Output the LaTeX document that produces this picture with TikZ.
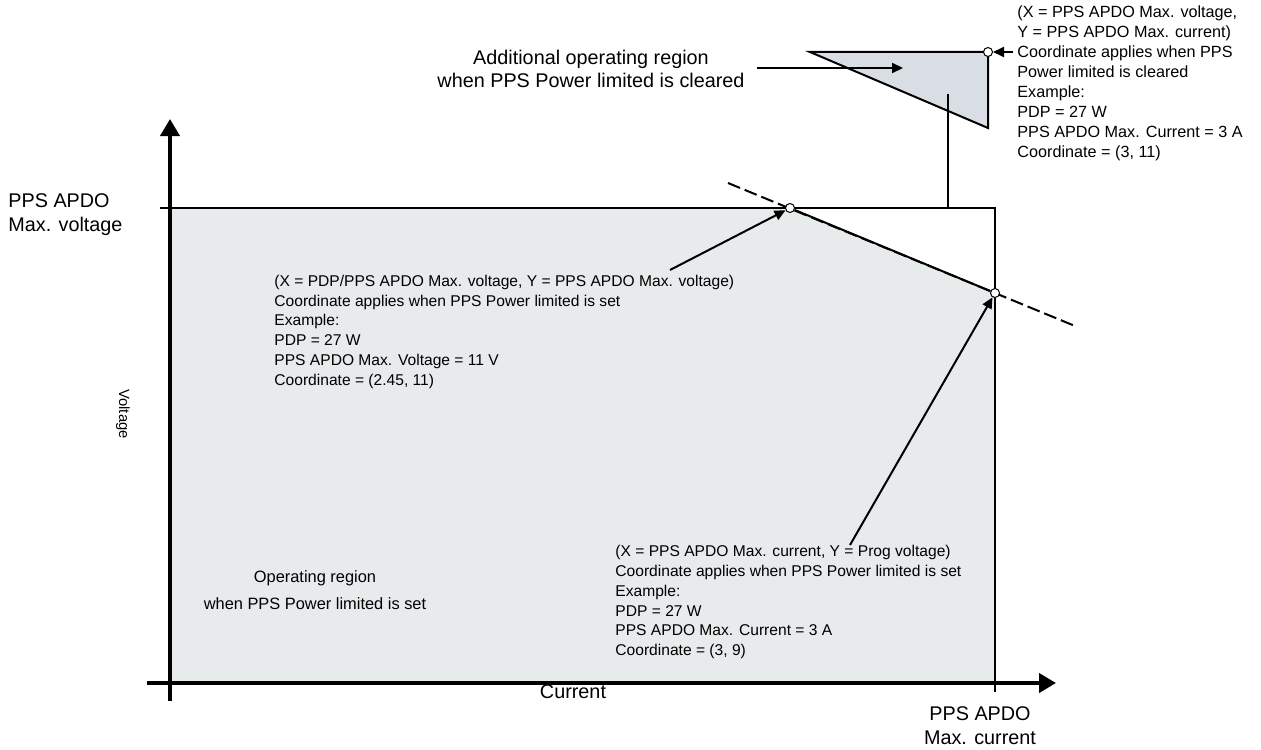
\documentclass[tikz,border=0pt]{standalone}
\usepackage{fontspec}
\setmainfont{Liberation Sans}
\usetikzlibrary{arrows.meta,positioning}
\definecolor{regiongray}{RGB}{231,235,236}
\definecolor{extragray}{RGB}{217,221,228}

\begin{document}
\begin{tikzpicture}[x=0.5pt,y=-0.5pt,
  axis/.style={line width=2pt,-{Triangle[length=8.5pt,width=9.5pt]}},
  edgeline/.style={line width=1pt},
  pointer/.style={line width=1pt,-{Triangle[length=5.5pt,width=5pt]}},
  corner/.style={circle,draw,fill=white,inner sep=0pt,minimum size=4.5pt,line width=0.5pt},
  smalltext/.style={font=\fontsize{7.8}{9.9}\selectfont,align=left,inner sep=0pt,anchor=north west},
  bigtext/.style={font=\fontsize{9.9}{11.6}\selectfont,align=center,inner sep=0pt}]

  \useasboundingbox (0,0) rectangle (1261,749);

  % operating regions
  \fill[regiongray] (170,208) -- (790,208) -- (995,293) -- (995,683) -- (170,683) -- cycle;
  \filldraw[fill=extragray,edgeline] (810,52) -- (988,52) -- (988,128) -- cycle;

  \draw[edgeline] (160,208) -- (995,208) -- (995,692);
  \draw[edgeline] (948,94) -- (948,208);

  \coordinate (dash1) at (728,183);
  \coordinate (dash2) at (1075,326);
  \draw[edgeline,dash pattern=on 6.5pt off 2.5pt] (dash1) -- (dash2);

  \node[corner] (knee) at (790,208) {};
  \node[corner] (prog) at (995,293) {};
  \node[corner] (clear) at (988,52) {};
  \draw[edgeline] (knee) -- (prog);

  % axes
  \coordinate (vlow) at (170,701);
  \coordinate (vtop) at (170,119);
  \coordinate (hlow) at (147,683);
  \coordinate (htop) at (1056,683);
  \draw[axis] (vlow) -- (vtop);
  \draw[axis] (hlow) -- (htop);

  \node[bigtext,anchor=north west,align=left,font=\fontsize{9.9}{12}\selectfont] (vmaxlbl) at (8,193) {PPS APDO\\Max. voltage};
  \node[bigtext,anchor=north,font=\fontsize{9.9}{12}\selectfont] (imaxlbl) at (980,706) {PPS APDO\\Max. current};
  \node[bigtext] (curlbl) at (573,692) {Current};
  \node[font=\fontsize{7.4}{8}\selectfont,inner sep=0pt,rotate=-90] (vollbl) at (123,414) {Voltage};

  \node[bigtext,anchor=north,font=\fontsize{8.2}{13.5}\selectfont] (setregion) at (315,570) {Operating region\\when PPS Power limited is set};
  \node[bigtext,anchor=north] (clrregion) at (591,50) {Additional operating region\\when PPS Power limited is cleared};

  \node[smalltext,font=\fontsize{8.1}{10}\selectfont] (clrnote) at (1017,5) {(X = PPS APDO Max. voltage,\\Y = PPS APDO Max. current)\\Coordinate applies when PPS\\Power limited is cleared\\Example:\\PDP = 27 W\\PPS APDO Max. Current = 3 A\\Coordinate = (3, 11)};
  \node[smalltext] (kneenote) at (274,274.5) {(X = PDP/PPS APDO Max. voltage, Y = PPS APDO Max. voltage)\\Coordinate applies when PPS Power limited is set\\Example:\\PDP = 27 W\\PPS APDO Max. Voltage = 11 V\\Coordinate = (2.45, 11)};
  \node[smalltext] (prognote) at (615,545) {(X = PPS APDO Max. current, Y = Prog voltage)\\Coordinate applies when PPS Power limited is set\\Example:\\PDP = 27 W\\PPS APDO Max. Current = 3 A\\Coordinate = (3, 9)};

  % pointers to the corners
  \coordinate (clrtail) at (757,68);
  \coordinate (clrhead) at (903,68);
  \coordinate (kneetail) at (670,270);
  \coordinate (progtail) at (850,545);
  \draw[pointer] (clrtail) -- (clrhead);
  \draw[pointer] (clrnote.west |- clear) ++(-4,0) -- (clear);
  \draw[pointer] (kneetail) -- (knee);
  \draw[pointer] (progtail) -- (prog);
\end{tikzpicture}
\end{document}
